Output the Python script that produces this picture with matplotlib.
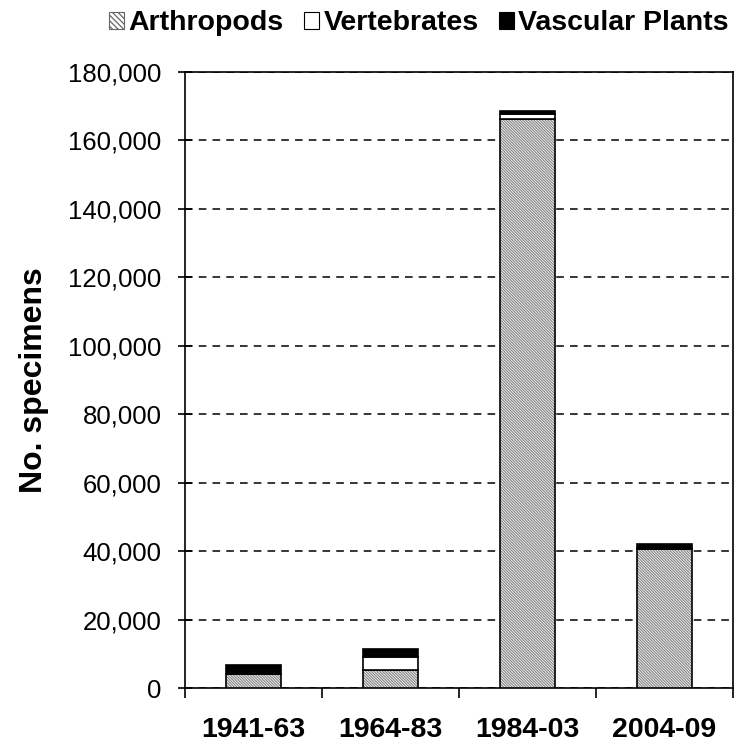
import matplotlib.pyplot as plt
import matplotlib.patches as mpatches
from matplotlib.ticker import FuncFormatter, MultipleLocator

# Data
periods = ["1941-63", "1964-83", "1984-03", "2004-09"]
arthropods = [4100, 5300, 166300, 40600]
vertebrates = [100, 3800, 1400, 200]
plants = [2600, 2300, 1000, 1300]

plt.rcParams['font.family'] = ['Liberation Sans', 'DejaVu Sans']
plt.rcParams['hatch.linewidth'] = 0.9

fig = plt.figure(figsize=(7.41, 7.52), dpi=100)
ax = fig.add_axes([0.2497, 0.0851, 0.9892 - 0.2497, 0.9043 - 0.0851])

x = list(range(len(periods)))
w = 0.4
bottom2 = [a + v for a, v in zip(arthropods, vertebrates)]
hatch = '\\' * 12

# hatched fill for arthropods, then outlines on top
ax.bar(x, arthropods, w, color='white', edgecolor='#8c8c8c', hatch=hatch, linewidth=0, zorder=3)
ax.bar(x, arthropods, w, color='none', edgecolor='black', linewidth=1.2, zorder=4)
ax.bar(x, vertebrates, w, bottom=arthropods, color='white', edgecolor='black', linewidth=1.2, zorder=4)
ax.bar(x, plants, w, bottom=bottom2, color='black', edgecolor='black', linewidth=1.2, zorder=4)

ax.set_xlim(-0.5, len(periods) - 0.5)
ax.set_ylim(0, 180000)
ax.yaxis.set_major_locator(MultipleLocator(20000))
ax.yaxis.set_major_formatter(FuncFormatter(lambda v, p: f"{int(v):,}"))

ax.yaxis.grid(True, color='black', linestyle=(0, (5, 4)), linewidth=1.1, zorder=1)
ax.set_axisbelow(True)

ax.set_xticks(x)
ax.set_xticklabels(periods, fontsize=20.5, fontweight='bold')
ax.set_xticks([i - 0.5 for i in range(len(periods) + 1)], minor=True)
ax.tick_params(axis='x', which='major', length=0, pad=21)
ax.tick_params(axis='x', which='minor', length=7.5, width=1.2, direction='out')
ax.tick_params(axis='y', labelsize=18.5, length=10, width=1.2, direction='inout', pad=12)

for s in ax.spines.values():
    s.set_linewidth(1.2)
    s.set_color('black')

ax.set_ylabel("No. specimens", fontsize=23, fontweight='bold', labelpad=14)

handles = [
    mpatches.Patch(facecolor='white', edgecolor='#666666', hatch='\\' * 6, linewidth=0.8),
    mpatches.Patch(facecolor='white', edgecolor='black', linewidth=0.8),
    mpatches.Patch(facecolor='black', edgecolor='black', linewidth=0.8),
]
fig.legend(handles, ["Arthropods", "Vertebrates", "Vascular Plants"],
           loc='upper right', bbox_to_anchor=(1.003, 1.005), ncol=3, frameon=False,
           prop={'size': 20.5, 'weight': 'bold'}, handlelength=0.55, handleheight=0.55,
           handletextpad=0.15, columnspacing=0.7, borderaxespad=0.1)

fig.savefig("out.png", dpi=100)
